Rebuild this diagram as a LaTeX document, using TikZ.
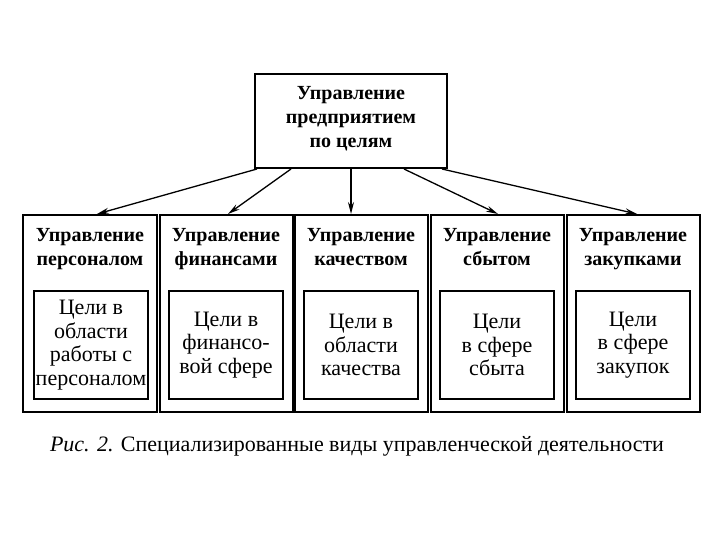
\documentclass[tikz,border=0pt]{standalone}
\usepackage{fontspec}
\setmainfont{Liberation Serif}
\usetikzlibrary{arrows.meta,positioning}

\begin{document}
\begin{tikzpicture}[x=1bp,y=-1bp,
  box/.style={draw,line width=2bp,minimum width=133bp,minimum height=197bp},
  goal/.style={draw,line width=2bp,minimum width=114bp,minimum height=108bp,inner sep=1bp,
    align=center,font=\fontsize{22bp}{23.5bp}\selectfont},
  head/.style={align=center,inner sep=1bp,font=\fontsize{20bp}{24bp}\selectfont\bfseries},
  link/.style={-{Stealth[length=12bp,width=6bp]},line width=1.3bp}]
  \useasboundingbox (0,0) rectangle (720,540);
  % top
  \node[draw,line width=2bp,minimum width=192bp,minimum height=94bp] (top) at (351,121) {};
  \node[head,anchor=north] (toph) at (351,85) {Управление\\предприятием\\по целям};
  % five kinds
  \node[box] (staff)   at (90,313.5)  {};
  \node[box] (finance) at (226,313.5) {};
  \node[box] (quality) at (361,313.5) {};
  \node[box] (sales)   at (497,313.5) {};
  \node[box] (supply)  at (633,313.5) {};
  \node[head,anchor=north] (staffh)   at (90,227)  {Управление\\персоналом};
  \node[head,anchor=north] (financeh) at (226,227) {Управление\\финансами};
  \node[head,anchor=north] (qualityh) at (361,227) {Управление\\качеством};
  \node[head,anchor=north] (salesh)   at (497,227) {Управление\\сбытом};
  \node[head,anchor=north] (supplyh)  at (633,227) {Управление\\закупками};
  % goals
  \node[goal] (staffg)   at (91,345)  {Цели в\\области\\работы с\\персоналом};
  \node[goal] (financeg) at (226,345) {Цели в\\финансо-\\вой сфере};
  \node[goal] (qualityg) at (361,345) {Цели в\\области\\качества};
  \node[goal] (salesg)   at (497,345) {Цели\\в сфере\\сбыта};
  \node[goal] (supplyg)  at (633,345) {Цели\\в сфере\\закупок};
  % arrows
  \draw[link] ([xshift=3bp]top.south west) -- ([xshift=7bp]staff.north);
  \draw[link] ([xshift=37bp]top.south west) -- ([xshift=2bp]finance.north);
  \draw[link] (top.south) -- (top.south |- quality.north);
  \draw[link] ([xshift=-44bp]top.south east) -- ([xshift=1bp]sales.north);
  \draw[link] ([xshift=-6bp]top.south east) -- ([xshift=4bp]supply.north);
  % caption
  \node[font=\fontsize{22bp}{26bp}\selectfont] (caption) at (357,446)
    {\textit{Рис. 2.} Специализированные виды управленческой деятельности};
\end{tikzpicture}
\end{document}
